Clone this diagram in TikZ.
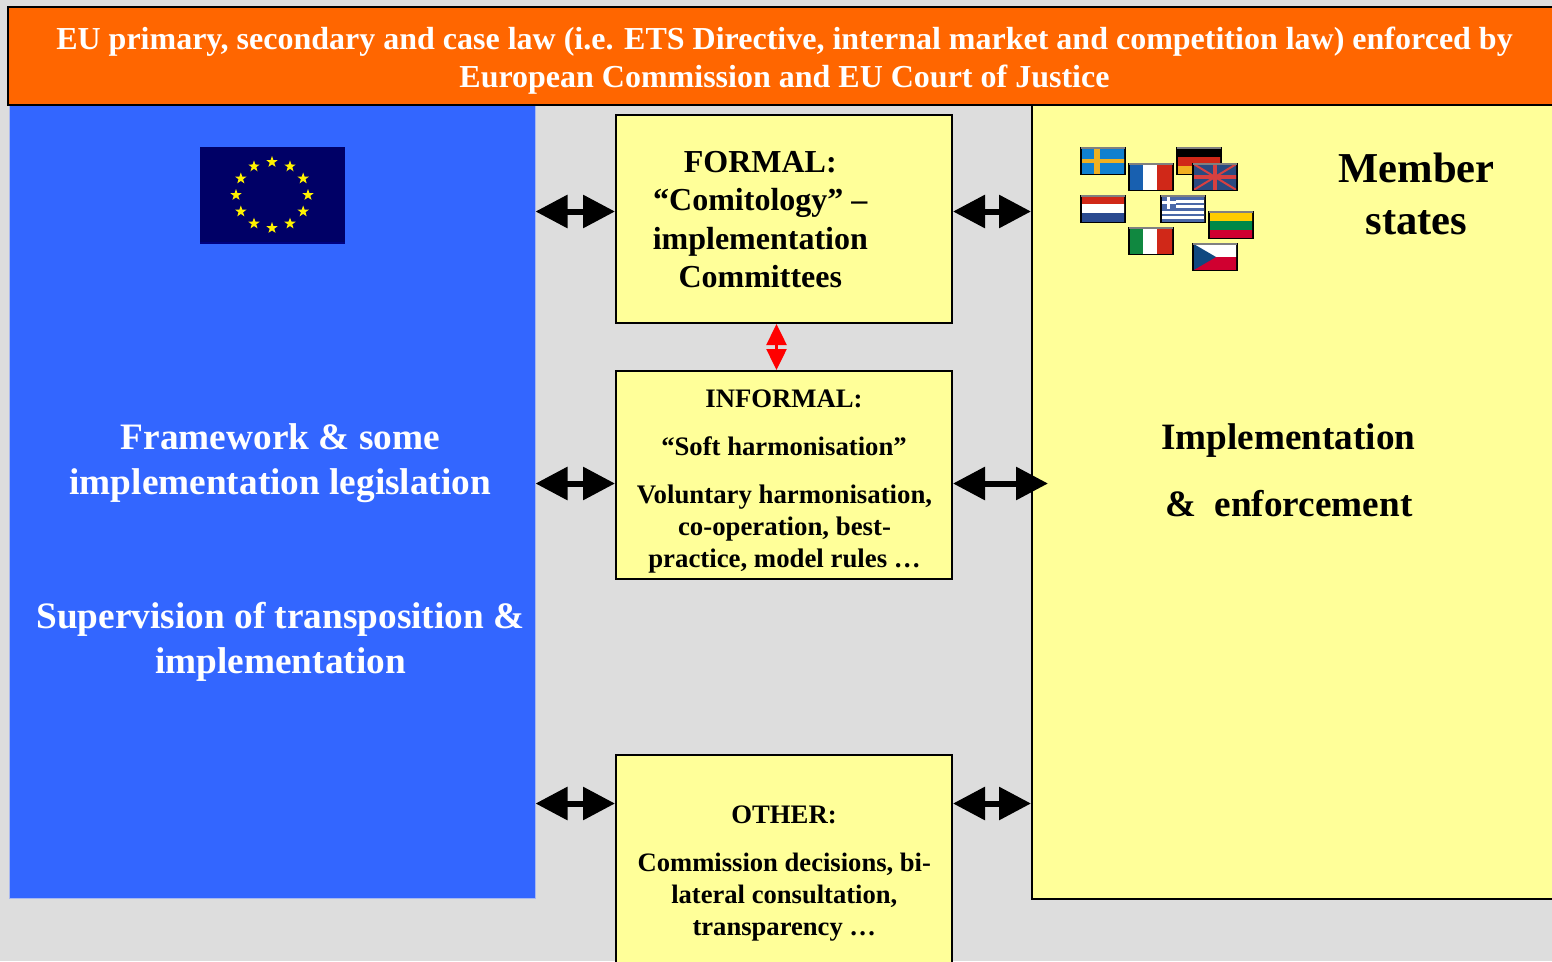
\documentclass[tikz,border=0pt]{standalone}
\usepackage{fontspec}
\setmainfont{Liberation Serif}
\usetikzlibrary{arrows.meta}
\definecolor{orangeband}{HTML}{FF6600}
\definecolor{euBlue}{HTML}{3366FF}
\definecolor{blueHalo}{HTML}{A8B8F0}
\definecolor{paleYellow}{HTML}{FFFF99}
\definecolor{bgGray}{HTML}{DDDDDD}
\definecolor{flagNavy}{HTML}{000066}
\definecolor{seBlue}{HTML}{1080D0}
\definecolor{seYellow}{HTML}{F0B020}
\definecolor{frBlue}{HTML}{1860B0}
\definecolor{flRed}{HTML}{D02818}
\definecolor{nlBlue}{HTML}{2A4A90}
\definecolor{ukBlue}{HTML}{2A4A80}
\definecolor{ukRed}{HTML}{D84040}
\definecolor{grBlue}{HTML}{4A68A8}
\definecolor{ltYellow}{HTML}{FFCC00}
\definecolor{ltGreen}{HTML}{008848}
\definecolor{ltRed}{HTML}{D00030}
\definecolor{itGreen}{HTML}{108840}
\definecolor{czBlue}{HTML}{104880}
\tikzset{
  band/.style={draw=black,line width=2pt,fill=orangeband,minimum width=1560pt,minimum height=98pt,anchor=north west,inner sep=0pt},
  bluepanel/.style={draw=blueHalo,line width=1pt,fill=euBlue,minimum width=526pt,minimum height=793pt,anchor=north west,inner sep=0pt},
  statepanel/.style={draw=black,line width=2pt,fill=paleYellow,minimum width=540pt,minimum height=794pt,anchor=north west,inner sep=0pt},
  midbox/.style={draw=black,line width=2pt,fill=paleYellow,minimum width=336pt,anchor=north west,inner sep=0pt},
  whitetext/.style={text=white,font=\bfseries,align=center,inner sep=0pt},
  blacktext/.style={text=black,font=\bfseries,align=center,inner sep=0pt},
  bigarrow/.style={line width=6pt,{Triangle[length=32pt,width=32pt]}-{Triangle[length=32pt,width=32pt]}},
  redarrow/.style={red,line width=2.5pt,{Triangle[length=21pt,width=20pt]}-{Triangle[length=21pt,width=20pt]}},
}
\newcommand{\fsz}[1]{\fontsize{#1pt}{#1pt}\selectfont}
\newcommand{\flagbox}[3]{\begin{scope}[shift={(#1,#2)}]
  \fill[black] (0,0) rectangle (46,28);
  \begin{scope}\clip (2,2) rectangle (44,26); #3 \end{scope}
  \fill[gray] (1,0) rectangle (45,1.5);
\end{scope}}
\begin{document}
\begin{tikzpicture}[x=1pt,y=-1pt]
\useasboundingbox (0,0) rectangle (1552,961);
\fill[bgGray] (0,0) rectangle (1552,961);
\node[bluepanel] (eu) at (8.5,104.5) {};
\node[statepanel] (ms) at (1031,104) {};
\node[band,align=center] (top) at (7,6) {};
\node[whitetext,font=\bfseries\fsz{32}] (toptext) at (784.5,61) {EU primary, secondary and case law (i.e. ETS Directive, internal market and competition law) enforced by\\[6pt]European Commission and EU Court of Justice};
\node[midbox,minimum height=208pt] (formal) at (615,114) {};
\node[midbox,minimum height=208pt] (informal) at (615,370) {};
\node[midbox,minimum height=230pt] (other) at (615,754) {};
\coordinate (rowA) at (0,211.5);
\coordinate (rowB) at (0,483.5);
\coordinate (rowC) at (0,803.5);
\coordinate (redx) at (776.5,0);
\coordinate (msin) at (1048,483.5);
\draw[bigarrow] (eu.east |- rowA) -- (formal.west |- rowA);
\draw[bigarrow] (formal.east |- rowA) -- (ms.west |- rowA);
\draw[bigarrow] (eu.east |- rowB) -- (informal.west |- rowB);
\draw[bigarrow] (informal.east |- rowB) -- (msin);
\draw[bigarrow] (eu.east |- rowC) -- (other.west |- rowC);
\draw[bigarrow] (other.east |- rowC) -- (ms.west |- rowC);
\draw[redarrow] (redx |- formal.south) -- (redx |- informal.north);
\node[blacktext,font=\bfseries\fsz{32}] (formaltext) at (760.3,219.5) {FORMAL:\\[6.3pt]“Comitology” –\\[6.3pt]implementation\\[6.3pt]Committees};
\node[blacktext,font=\bfseries\fsz{26.7}] (inf1) at (784,399) {INFORMAL:};
\node[blacktext,font=\bfseries\fsz{26.7}] (inf2) at (784,446) {“Soft harmonisation”};
\node[blacktext,font=\bfseries\fsz{26.8}] (inf3) at (784.5,529) {Voluntary harmonisation,\\[5.2pt]co-operation, best-\\[5.2pt]practice, model rules …};
\node[blacktext,font=\bfseries\fsz{26.7}] (oth1) at (784,815) {OTHER:};
\node[blacktext,font=\bfseries\fsz{26.6}] (oth2) at (784.3,897) {Commission decisions, bi-\\[5.6pt]lateral consultation,\\[5.6pt]transparency …};
\node[whitetext,font=\bfseries\fsz{37.3}] (eu1) at (280.3,463) {Framework \& some\\[7.7pt]implementation legislation};
\node[whitetext,font=\bfseries\fsz{37.3}] (eu2) at (280.5,642) {Supervision of transposition \&\\[7.7pt]implementation};
\node[blacktext,font=\bfseries\fsz{42.6}] (ms1) at (1416.5,194) {Member\\[9.4pt]states};
\node[blacktext,font=\bfseries\fsz{37.2}] (ms2) at (1288.3,441) {Implementation};
\node[blacktext,font=\bfseries\fsz{37.2}] (ms3) at (1288.8,504) {\&\ \ enforcement};
% EU flag
\fill[flagNavy] (200,147) rectangle (345,242);
\fill[blue!50!black] (200,242) rectangle (345,244);
\foreach \a in {0,30,...,330}{
  \fill[yellow] ({272+36*cos(\a)+6*cos(-90)},{195+33*sin(\a)+6*sin(-90)})
   \foreach \k in {1,...,9}{ -- ({272+36*cos(\a)+(mod(\k,2)==0 ? 6 : 2.4)*cos(-90+36*\k)},{195+33*sin(\a)+(mod(\k,2)==0 ? 6 : 2.4)*sin(-90+36*\k)}) } -- cycle;
}
% national flags
\flagbox{1080}{147}{\fill[seBlue] (0,0) rectangle (46,28); \fill[seYellow] (14,0) rectangle (20,28); \fill[seYellow] (0,12) rectangle (46,16);}
\flagbox{1176}{147}{\fill[black] (0,0) rectangle (46,10); \fill[flRed] (0,10) rectangle (46,19); \fill[seYellow] (0,19) rectangle (46,28);}
\flagbox{1128}{163}{\fill[frBlue] (0,0) rectangle (15,28); \fill[white] (15,0) rectangle (29,28); \fill[flRed] (29,0) rectangle (46,28);}
\flagbox{1192}{163}{\fill[ukBlue] (0,0) rectangle (46,28); \draw[ukRed,line width=2pt] (0,0) -- (46,28) (0,28) -- (46,0); \draw[ukRed,line width=4pt] (23,0) -- (23,28) (0,14) -- (46,14);}
\flagbox{1080}{195}{\fill[flRed] (0,0) rectangle (46,9); \fill[white] (0,9) rectangle (46,18); \fill[nlBlue] (0,18) rectangle (46,28);}
\flagbox{1160}{195}{\fill[white] (0,0) rectangle (46,28); \foreach \s in {2,7.5,13,18.5,24}{\fill[grBlue] (0,\s) rectangle (46,\s+2.7);} \fill[grBlue] (0,0) rectangle (16,14); \fill[white] (7,0) rectangle (10,14); \fill[white] (0,6) rectangle (16,9);}
\flagbox{1208}{211}{\fill[ltYellow] (0,0) rectangle (46,10); \fill[ltGreen] (0,10) rectangle (46,19); \fill[ltRed] (0,19) rectangle (46,28);}
\flagbox{1128}{227}{\fill[itGreen] (0,0) rectangle (15,28); \fill[white] (15,0) rectangle (29,28); \fill[flRed] (29,0) rectangle (46,28);}
\flagbox{1192}{243}{\fill[white] (0,0) rectangle (46,14); \fill[ltRed] (0,14) rectangle (46,28); \fill[czBlue] (0,0) -- (24,14) -- (0,28) -- cycle;}
\end{tikzpicture}
\end{document}
